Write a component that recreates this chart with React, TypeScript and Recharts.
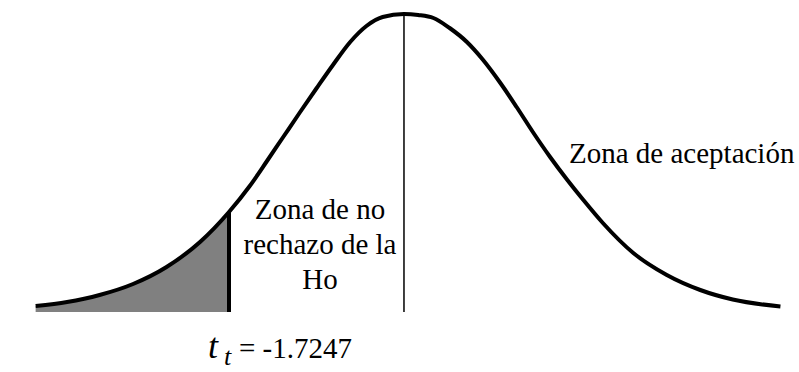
import { ComposedChart, Line, Area, XAxis, YAxis, ReferenceLine, Customized } from "recharts";

// t positions (critical value at -1.7247, mean at 0)
const tValues = [
  -3.63, -3.32, -3.0, -2.67, -2.34, -2.01, -1.7247, -1.52, -1.35, -1.19, -1.03, -0.86, -0.7, -0.53,
  -0.37, -0.21, 0, 0.14, 0.29, 0.45, 0.62, 0.78, 0.95, 1.11, 1.27, 1.44, 1.61, 1.76, 1.96, 2.26,
  2.59, 2.92, 3.24, 3.71,
];

// curve height above the axis at each t
const heights = [
  6, 10, 17, 28, 45, 70, 100, 126, 151, 175, 199, 224, 247, 270, 286, 295, 298, 297, 294, 284, 270,
  252, 229, 205, 180, 155, 132, 113, 89, 59, 37, 22, 12.5, 5.5,
];

const criticalT = -1.7247;
const criticalLabel = "-1.7247";
const peakHeight = 299;

const labelLeft = ["Zona de no", "rechazo de la", "Ho"];
const labelRight = "Zona de aceptación";

const curve = tValues.map((t, i) => ({ t, h: heights[i] }));
const rejection = curve.filter((p) => p.t <= criticalT);

const serif = "Liberation Serif";

function Notes() {
  return (
    <g fill="#000" fontFamily={serif}>
      {labelLeft.map((line, i) => (
        <text key={line} x={320} y={219 + i * 35} fontSize={29} textAnchor="middle">
          {line}
        </text>
      ))}
      <text x={569} y={163} fontSize={29}>
        {labelRight}
      </text>
      <text x={208} y={358} fontSize={36} fontStyle="italic">
        t
      </text>
      <text x={224} y={365} fontSize={26} fontStyle="italic">
        t
      </text>
      <text x={239} y={358} fontSize={29}>
        = {criticalLabel}
      </text>
    </g>
  );
}

export default function App() {
  return (
    <div style={{ position: "absolute", left: 0, top: 0, background: "#fff" }}>
      <ComposedChart width={799} height={372} margin={{ top: 12, right: 0, bottom: 60, left: 12 }}>
        <XAxis
          type="number"
          dataKey="t"
          domain={[-3.863, 3.893]}
          allowDataOverflow
          tick={false}
          tickLine={false}
          height={0}
          axisLine={{ stroke: "#9a9a9a", strokeWidth: 2 }}
        />
        <YAxis hide domain={[0, 300]} width={0} />
        <Area
          data={rejection}
          dataKey="h"
          type="monotone"
          fill="#808080"
          fillOpacity={1}
          stroke="none"
          baseValue={0}
          isAnimationActive={false}
        />
        <ReferenceLine
          segment={[
            { x: 0, y: 0 },
            { x: 0, y: peakHeight },
          ]}
          stroke="#000"
          strokeWidth={1.5}
        />
        <ReferenceLine
          segment={[
            { x: criticalT, y: 0 },
            { x: criticalT, y: heights[tValues.indexOf(criticalT)] },
          ]}
          stroke="#000"
          strokeWidth={4}
        />
        <Line
          data={curve}
          dataKey="h"
          type="monotone"
          stroke="#000"
          strokeWidth={4}
          dot={false}
          activeDot={false}
          isAnimationActive={false}
        />
        <Customized component={Notes} />
      </ComposedChart>
    </div>
  );
}
